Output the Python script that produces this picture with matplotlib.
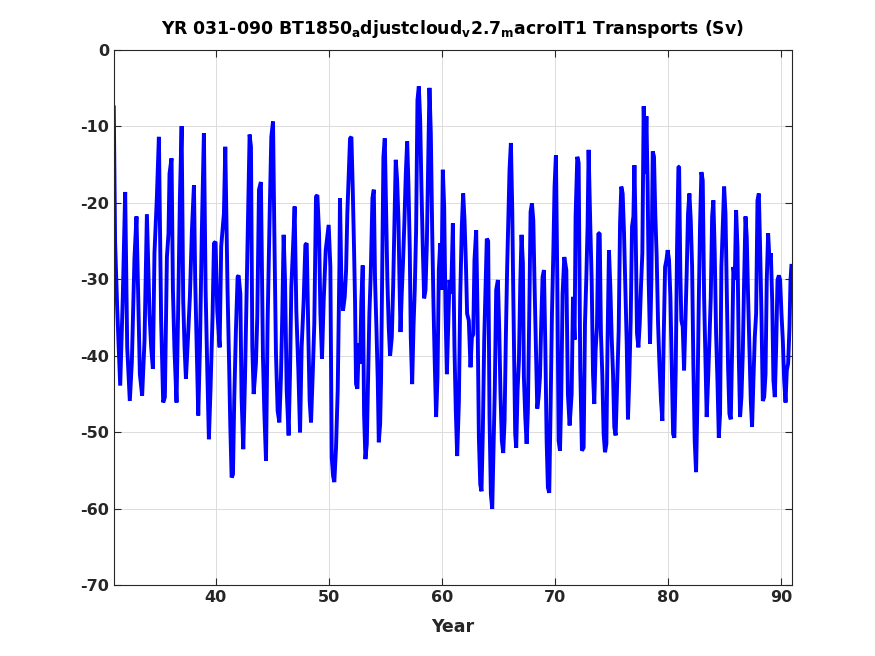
import matplotlib
matplotlib.use("Agg")
import matplotlib.pyplot as plt

# peaks / troughs, (year, Sv)
year = [
    31.00, 31.12, 31.30, 31.57, 31.80, 32.01, 32.19, 32.42, 32.60, 32.83,
    33.01, 33.19, 33.31, 33.51, 33.72, 33.93, 34.16, 34.31, 34.46, 34.60,
    34.81, 34.99, 35.19, 35.37, 35.52, 35.70, 35.84, 35.93, 36.11, 36.23,
    36.37, 36.55, 36.73, 36.85, 37.00, 37.14, 37.26, 37.38, 37.55, 37.73,
    37.91, 38.09, 38.20, 38.38, 38.47, 38.62, 38.79, 38.97, 39.12, 39.27,
    39.41, 39.56, 39.74, 39.86, 40.00, 40.15, 40.36, 40.50, 40.74,
    40.86, 41.06, 41.21, 41.30, 41.42, 41.54, 41.65, 41.80, 41.95, 42.04,
    42.19, 42.30, 42.45, 42.60, 42.72, 42.89, 43.01, 43.13, 43.25, 43.37,
    43.57, 43.69, 43.84, 44.01, 44.19, 44.31, 44.46, 44.60, 44.78, 44.93,
    45.08, 45.19, 45.34, 45.49, 45.64, 45.78, 45.90, 46.02, 46.14, 46.29,
    46.46, 46.58, 46.70, 46.85, 46.99, 47.14, 47.32, 47.47, 47.61, 47.79,
    47.94, 48.06, 48.20, 48.32, 48.44, 48.59, 48.73, 48.88, 49.00, 49.15,
    49.27, 49.41, 49.56, 49.74, 49.91, 50.00, 50.15, 50.27, 50.39, 50.50,
    50.65, 50.80, 50.95,
    51.00, 51.12, 51.27, 51.42, 51.54, 51.65, 51.77, 51.89, 52.01, 52.13,
    52.24, 52.33, 52.42, 52.54, 52.66, 52.78, 52.89, 53.01, 53.13, 53.25,
    53.37, 53.48, 53.60, 53.72, 53.87, 53.99, 54.10, 54.22, 54.34, 54.43,
    54.55, 54.63, 54.72, 54.84, 54.96, 55.08, 55.19, 55.31, 55.43, 55.58,
    55.70, 55.81, 55.93, 56.05, 56.17, 56.26, 56.35, 56.46, 56.58, 56.70,
    56.82, 56.94, 57.05, 57.17, 57.26, 57.38, 57.50, 57.61, 57.73, 57.85,
    57.97, 58.09, 58.20, 58.32, 58.44, 58.56, 58.68, 58.79, 58.91, 59.03,
    59.15, 59.27, 59.38, 59.50, 59.62, 59.74, 59.86, 59.97, 60.09, 60.21,
    60.33, 60.45, 60.56, 60.68,
    60.83, 60.98, 61.12, 61.24, 61.36, 61.51, 61.63, 61.77, 61.89, 62.01,
    62.13, 62.24, 62.39, 62.54, 62.66, 62.78, 62.89, 63.04, 63.16, 63.28,
    63.40, 63.51, 63.63, 63.75, 63.87, 63.98, 64.10, 64.22, 64.34, 64.46,
    64.58, 64.69, 64.81, 64.96, 65.08, 65.19, 65.31, 65.43, 65.55, 65.67,
    65.78, 65.87, 65.99, 66.11, 66.23, 66.32, 66.40, 66.49, 66.58, 66.70,
    66.82, 66.94, 67.05, 67.17, 67.26, 67.38, 67.50, 67.61, 67.73, 67.85,
    67.97, 68.09, 68.20, 68.32, 68.44, 68.56, 68.68, 68.79, 68.91, 69.03,
    69.15, 69.27, 69.38, 69.50, 69.62, 69.74, 69.86, 69.97, 70.09, 70.21,
    70.33, 70.45, 70.56, 70.68,
    70.83, 71.01, 71.15, 71.30, 71.48, 71.60, 71.74, 71.83, 71.98, 72.10,
    72.24, 72.39, 72.54, 72.66, 72.78, 72.89, 72.98, 73.13, 73.25, 73.37,
    73.48, 73.60, 73.72, 73.84, 73.96, 74.07, 74.19, 74.31, 74.43, 74.55,
    74.66, 74.78, 74.90, 75.02, 75.14, 75.25, 75.37, 75.49, 75.64, 75.76,
    75.87, 75.99, 76.11, 76.23, 76.35, 76.46, 76.58, 76.70, 76.82, 76.94,
    77.03, 77.14, 77.26, 77.38, 77.50, 77.61, 77.73, 77.85, 77.97, 78.09,
    78.20, 78.29, 78.41, 78.53, 78.65, 78.76, 78.88, 79.00, 79.12, 79.24,
    79.38, 79.50, 79.62, 79.74, 79.86, 79.97, 80.09, 80.21, 80.33, 80.45,
    80.56, 80.68, 80.80, 80.92,
    80.98, 81.09, 81.18, 81.30, 81.42, 81.54, 81.65, 81.77, 81.89, 82.01,
    82.13, 82.24, 82.36, 82.48, 82.60, 82.72, 82.83, 82.95, 83.07, 83.19,
    83.31, 83.42, 83.54, 83.66, 83.78, 83.90, 84.01, 84.13, 84.25, 84.37,
    84.49, 84.60, 84.72, 84.84, 84.96, 85.08, 85.19, 85.31, 85.43, 85.55,
    85.67, 85.78, 85.90, 86.02, 86.14, 86.26, 86.37, 86.49, 86.61, 86.73,
    86.85, 86.96, 87.08, 87.20, 87.32, 87.43, 87.55, 87.67, 87.79, 87.91,
    88.03, 88.14, 88.26, 88.38, 88.50, 88.62, 88.73, 88.85, 88.97, 89.09,
    89.21, 89.32, 89.44, 89.56, 89.68, 89.80, 89.91, 90.03, 90.15, 90.27,
    90.39, 90.50, 90.62, 90.74, 90.83, 90.92,
]

transport = [
    -7.3, -25.2, -33.6, -43.9, -32.3, -18.6, -38.9, -45.9, -40.8, -27.3,
    -21.8, -34.5, -42.4, -45.2, -38.0, -21.5, -34.5, -38.9, -41.7, -26.6,
    -19.4, -11.4, -35.4, -46.1, -45.4, -27.1, -24.0, -16.2, -14.2, -31.4,
    -39.3, -46.1, -31.0, -19.2, -10.0, -32.8, -38.9, -43.0, -38.0, -32.3,
    -23.6, -17.7, -30.1, -41.9, -47.8, -38.9, -23.6, -10.9, -31.4, -41.9,
    -50.9, -44.1, -34.5, -25.3, -25.1, -34.1, -38.9, -25.7, -21.4,
    -12.7, -31.4, -41.9, -48.9, -55.9, -55.5, -45.9, -36.7, -29.7, -29.5,
    -31.9, -45.4, -52.2, -43.2, -33.6, -20.5, -11.1, -12.7, -38.9, -45.0,
    -41.0, -34.9, -18.3, -17.3, -40.1, -47.2, -53.7, -35.8, -21.8, -11.4,
    -9.4, -23.1, -39.7, -47.2, -48.7, -42.8, -34.5, -24.2, -30.1, -44.5,
    -50.4, -42.4, -31.0, -25.8, -20.5, -34.1, -41.9, -50.0, -38.9, -32.8,
    -25.5, -25.3, -37.1, -45.9, -48.7, -42.4, -35.8, -19.2, -19.0, -24.0,
    -34.5, -40.4, -32.8, -26.2, -24.0, -22.9, -28.4, -53.3, -55.7, -56.5,
    -52.0, -44.5, -28.4,
    -19.4, -30.1, -34.1, -32.3, -28.8, -21.4, -16.4, -11.6, -11.4, -18.3,
    -25.8, -32.8, -43.7, -44.3, -38.4, -41.0, -32.8, -28.2, -47.6, -53.5,
    -51.5, -43.2, -34.5, -29.3, -19.4, -18.3, -30.1, -36.2, -43.2, -51.3,
    -48.9, -43.2, -30.1, -14.0, -11.6, -21.4, -30.1, -36.2, -40.0, -37.6,
    -31.0, -23.1, -14.4, -17.0, -22.3, -30.1, -36.9, -31.9, -27.5, -22.3,
    -16.2, -12.0, -17.5, -26.2, -37.6, -43.7, -36.2, -31.4, -23.6, -6.6,
    -4.8, -9.2, -17.9, -25.8, -32.5, -31.4, -25.3, -15.7, -5.0, -10.9,
    -23.6, -33.6, -41.0, -48.0, -42.8, -28.8, -25.3, -31.4, -15.7, -20.5,
    -34.1, -42.4, -36.7, -30.1,
    -31.9, -22.7, -38.9, -47.2, -53.1, -46.1, -32.3, -23.1, -18.8, -22.3,
    -27.9, -34.5, -35.4, -41.5, -37.6, -37.2, -27.5, -23.6, -34.5, -50.7,
    -56.8, -57.7, -49.8, -38.0, -31.0, -24.7, -25.0, -48.0, -58.1, -60.0,
    -52.0, -44.1, -31.4, -30.1, -36.7, -45.0, -51.1, -52.7, -48.5, -37.1,
    -28.4, -23.1, -15.7, -12.2, -21.0, -31.9, -40.2, -50.2, -52.0, -44.5,
    -40.6, -30.6, -24.2, -27.9, -42.8, -48.0, -51.5, -47.2, -34.9, -21.2,
    -20.1, -22.3, -30.6, -38.9, -46.9, -45.4, -42.8, -35.8, -29.7, -28.8,
    -38.4, -51.1, -57.2, -57.9, -46.7, -34.5, -26.6, -17.9, -13.8, -29.7,
    -51.1, -52.4, -45.4, -31.9,
    -27.1, -28.8, -45.0, -49.1, -45.0, -32.3, -37.9, -21.8, -14.0, -14.8,
    -41.5, -52.4, -52.0, -35.8, -29.7, -23.1, -13.1, -23.1, -30.1, -42.4,
    -46.3, -39.3, -36.2, -24.0, -24.0, -37.1, -42.4, -50.2, -52.6, -51.5,
    -37.6, -26.2, -31.0, -37.6, -42.4, -49.3, -50.4, -44.1, -36.7, -22.7,
    -17.9, -18.8, -24.0, -31.4, -38.4, -48.3, -42.8, -35.4, -23.1, -21.8,
    -15.1, -23.6, -37.1, -38.9, -35.8, -31.0, -26.6, -7.4, -16.2, -8.7,
    -17.9, -30.1, -38.4, -30.1, -13.3, -14.0, -21.8, -27.1, -35.8, -41.0,
    -45.8, -48.5, -37.6, -28.4, -27.5, -26.2, -27.5, -32.3, -41.5, -50.2,
    -50.7, -41.9, -25.8, -15.3,
    -15.3, -29.3, -35.4, -36.2, -41.9, -35.4, -29.3, -21.4, -18.8, -22.3,
    -28.4, -41.0, -51.1, -55.2, -45.9, -33.0, -23.1, -16.0, -17.1, -32.3,
    -40.2, -48.0, -43.2, -38.0, -32.3, -21.8, -19.7, -26.6, -37.1, -43.2,
    -50.7, -47.6, -28.4, -23.1, -17.9, -21.4, -31.0, -41.5, -47.6, -48.3,
    -38.9, -28.4, -30.1, -21.0, -25.8, -40.2, -48.0, -45.4, -39.7, -30.1,
    -21.8, -24.5, -32.3, -38.9, -45.9, -49.3, -43.2, -37.6, -34.5, -19.7,
    -18.8, -25.8, -34.5, -45.9, -45.4, -42.4, -30.1, -24.0, -27.5, -26.6,
    -32.8, -43.2, -45.4, -38.9, -30.1, -29.5, -30.1, -34.5, -38.0, -43.2,
    -46.1, -41.9, -41.0, -36.2, -30.1, -28.0,
]

xticks = [40, 50, 60, 70, 80, 90]
yticks = [0, -10, -20, -30, -40, -50, -60, -70]

title = (r'YR 031-090 BT1850$_{\mathbf{a}}$djustcloud$_{\mathbf{v}}$2.7'
         r'$_{\mathbf{m}}$acroIT1 Transports (Sv)')

plt.rcParams['font.family'] = ['DejaVu Sans']
plt.rcParams['font.weight'] = 'bold'
plt.rcParams['mathtext.default'] = 'bf'
plt.rcParams['axes.unicode_minus'] = False

fig = plt.figure(figsize=(8.75, 6.56), dpi=100)
ax = fig.add_axes([0.13, 0.1076, 0.775, 0.8168])

ax.plot(year, transport, color=(0, 0, 1), linewidth=2.8,
        solid_joinstyle='bevel', solid_capstyle='butt')

ax.set_xlim(31, 90.95)
ax.set_ylim(-70, 0)
ax.set_xticks(xticks)
ax.set_yticks(yticks)
ax.tick_params(direction='in', top=True, right=True, length=5, width=0.8,
               labelsize=11.5, color='#262626', labelcolor='#262626')
for lab in ax.get_xticklabels() + ax.get_yticklabels():
    lab.set_fontweight('bold')
for sp in ax.spines.values():
    sp.set_color('#262626')
    sp.set_linewidth(0.8)
ax.grid(True, color='#dcdcdc', linewidth=0.7)
ax.set_axisbelow(True)

ax.set_xlabel('Year', fontsize=12.5, fontweight='bold', color='#262626',
              labelpad=9)
ax.set_title(title, fontsize=12.4, fontweight='bold', color='black', pad=11)

fig.savefig('out.png', dpi=100)
